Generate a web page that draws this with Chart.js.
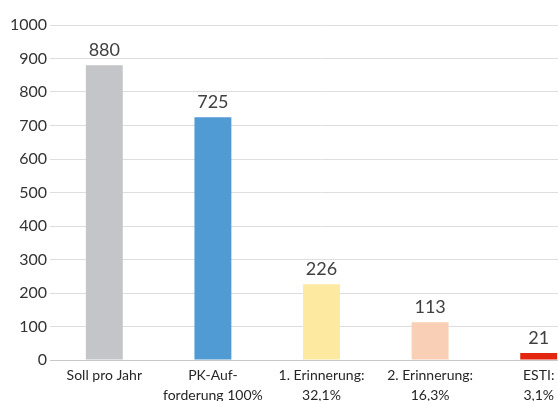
<!DOCTYPE html>
<html>
<head>
<meta charset="utf-8">
<script src="https://cdn.jsdelivr.net/npm/chart.js@4"></script>
<style>
  html, body { margin: 0; padding: 0; background: #fff; overflow: hidden; }
  #wrap { width: 593px; height: 401px; }
</style>
</head>
<body>
<div id="wrap"><canvas id="chart"></canvas></div>
<script>
// data
var categories = [
    ['Soll pro Jahr'],
    ['PK-Auf-', 'forderung 100%'],
    ['1. Erinnerung:', '32,1%'],
    ['2. Erinnerung:', '16,3%'],
    ['ESTI:', '3,1%']
];
var values = [880, 725, 226, 113, 21];
var barColors = ['#C4C5C9', '#519BD4', '#FEE9A0', '#F9D0B5', '#E2260F'];
var yTicks = [0, 100, 200, 300, 400, 500, 600, 700, 800, 900, 1000];

var fontFamily = 'Lato, "Open Sans", sans-serif';

// value labels above each bar
var valueLabels = {
    id: 'valueLabels',
    afterDatasetsDraw: function(chart) {
        var ctx = chart.ctx;
        var meta = chart.getDatasetMeta(0);
        ctx.save();
        ctx.font = '18px ' + fontFamily;
        ctx.fillStyle = '#404040';
        ctx.textAlign = 'center';
        ctx.textBaseline = 'bottom';
        meta.data.forEach(function(bar, i) {
            ctx.fillText(values[i], bar.x, bar.y - 6);
        });
        ctx.restore();
    }
};

new Chart(document.getElementById('chart'), {
    type: 'bar',
    data: {
        labels: categories,
        datasets: [{
            data: values,
            backgroundColor: barColors,
            borderWidth: 0,
            barPercentage: 0.34,
            categoryPercentage: 1
        }]
    },
    options: {
        responsive: true,
        maintainAspectRatio: false,
        animation: false,
        layout: { padding: { top: 25, right: 0, left: 0, bottom: 0 } },
        plugins: {
            legend: { display: false },
            tooltip: { enabled: false }
        },
        scales: {
            x: {
                grid: { display: false, drawTicks: false },
                border: { display: true, color: '#C8C8C8', width: 1 },
                ticks: {
                    color: '#262626',
                    font: { family: fontFamily, size: 14, lineHeight: 1.45 },
                    maxRotation: 0,
                    autoSkip: false,
                    padding: 5
                },
                afterFit: function(scale) { scale.height = 41; }
            },
            y: {
                min: 0,
                max: 1000,
                afterBuildTicks: function(scale) {
                    scale.ticks = yTicks.map(function(v) { return { value: v }; });
                },
                grid: { color: '#DEDEDE', lineWidth: 1, drawTicks: false },
                border: { display: false },
                ticks: {
                    color: '#333333',
                    font: { family: fontFamily, size: 16 },
                    padding: 3,
                    callback: function(v) { return String(v); }
                },
                afterFit: function(scale) { scale.width = 50; }
            }
        }
    },
    plugins: [valueLabels]
});
</script>
</body>
</html>
